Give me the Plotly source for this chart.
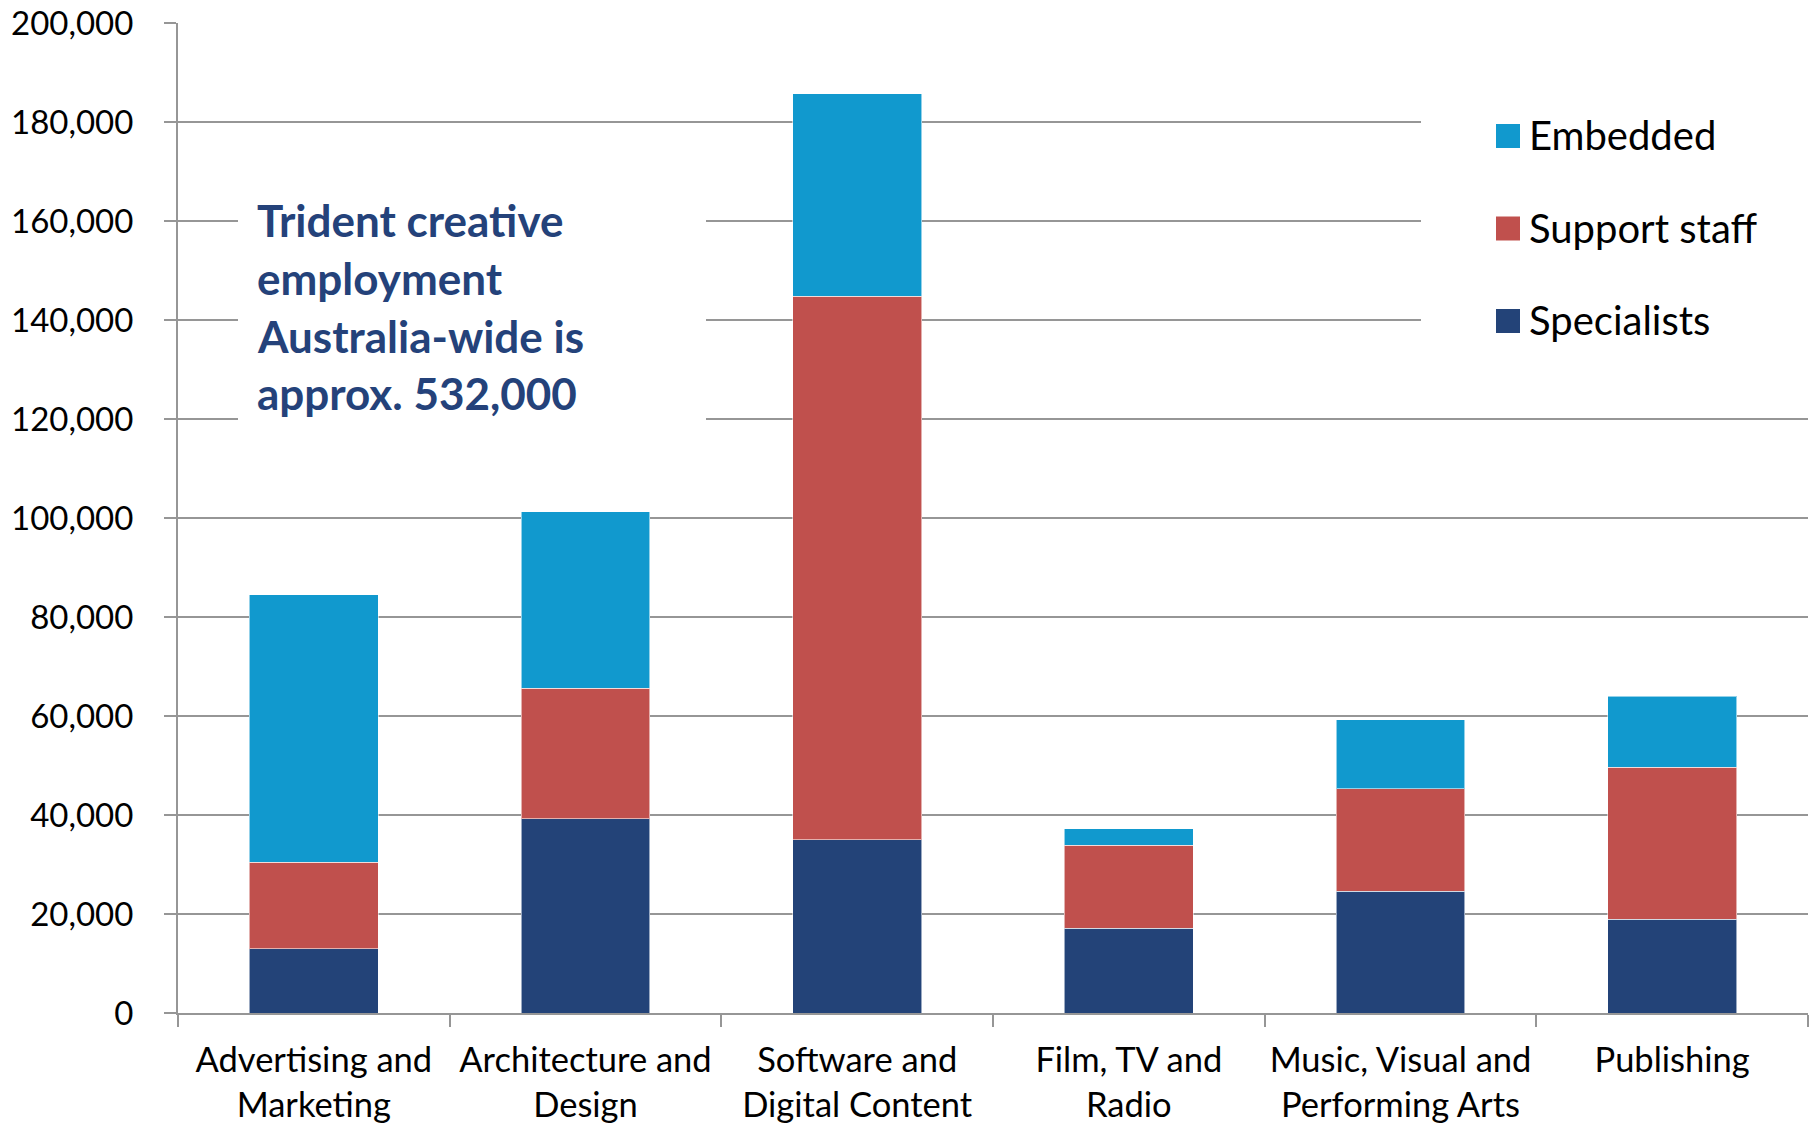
import plotly.graph_objects as go

# Creative employment by segment, stacked by employment type
categories = [
    "Advertising and<br>Marketing",
    "Architecture and<br>Design",
    "Software and<br>Digital Content",
    "Film, TV and<br>Radio",
    "Music, Visual and<br>Performing Arts",
    "Publishing",
]
specialists = [13000, 39200, 35000, 17100, 24600, 18900]
support_staff = [17500, 26400, 109800, 16800, 20700, 30700]
embedded = [54000, 35700, 40900, 3300, 13900, 14400]

series_names = ["Specialists", "Support staff", "Embedded"]
series_values = [specialists, support_staff, embedded]
series_colors = ["#234378", "#C0504D", "#1199CE"]

y_ticks = [0, 20000, 40000, 60000, 80000, 100000, 120000, 140000, 160000, 180000, 200000]

note_lines = [
    "Trident creative",
    "employment",
    "Australia-wide is",
    "approx. 532,000",
]

W, H = 1820, 1126
ML, MR, MT, MB = 178, 12, 23, 113
PW, PH = W - ML - MR, H - MT - MB


def px_x(px):
    return (px - ML) / PW


def px_y(py):
    return (H - MB - py) / PH


GRID = "#969696"
FONT = "Lato, 'Open Sans', sans-serif"

fig = go.Figure()
for name, vals, col in zip(series_names, series_values, series_colors):
    fig.add_trace(go.Bar(
        x=categories, y=vals, name=name,
        marker=dict(color=col, line=dict(color="rgba(255,255,255,0.55)", width=1)),
        showlegend=False,
    ))

shapes = [
    # white panels behind the note and the legend, interrupting the gridlines
    dict(type="rect", xref="paper", yref="paper",
         x0=px_x(238), x1=px_x(706), y0=px_y(490), y1=px_y(140),
         fillcolor="white", line=dict(width=0), layer="above"),
    dict(type="rect", xref="paper", yref="paper",
         x0=px_x(1421), x1=1.01, y0=px_y(400), y1=px_y(45),
         fillcolor="white", line=dict(width=0), layer="above"),
]
annotations = []

# legend: top entry is the top of the stack
legend_centers = [136, 228.5, 321]
for (name, col), cy in zip(list(zip(series_names, series_colors))[::-1], legend_centers):
    shapes.append(dict(type="rect", xref="paper", yref="paper",
                       x0=px_x(1496), x1=px_x(1520), y0=px_y(cy + 12), y1=px_y(cy - 12),
                       fillcolor=col, line=dict(width=0), layer="above"))
    annotations.append(dict(xref="paper", yref="paper", x=px_x(1527), y=px_y(cy - 1),
                            xanchor="left", yanchor="middle", text=name, showarrow=False,
                            font=dict(family=FONT, size=40, color="#000000")))

note_centers = [220, 278, 336, 393]
for line, cy in zip(note_lines, note_centers):
    annotations.append(dict(xref="paper", yref="paper", x=px_x(255), y=px_y(cy),
                            xanchor="left", yanchor="middle", text="<b>" + line + "</b>",
                            showarrow=False,
                            font=dict(family=FONT, size=44, color="#24427A")))

fig.update_layout(
    width=W, height=H,
    margin=dict(l=ML, r=MR, t=MT, b=MB, pad=0, autoexpand=False),
    paper_bgcolor="white", plot_bgcolor="white",
    barmode="stack", bargap=0.526,
    shapes=shapes, annotations=annotations,
    font=dict(family=FONT, color="#000000"),
)
fig.update_yaxes(
    range=[0, 200000], tickvals=y_ticks, tickformat=",d",
    automargin=False,
    showgrid=True, gridcolor=GRID, gridwidth=2,
    showline=True, linecolor=GRID, linewidth=2,
    zeroline=False,
    ticks="outside", ticklen=12, tickwidth=2, tickcolor=GRID,
    ticklabelstandoff=24,
    tickfont=dict(family=FONT, size=33, color="#000000"),
)
fig.update_xaxes(
    automargin=False, tickangle=0,
    showline=True, linecolor=GRID, linewidth=2,
    ticks="outside", ticklen=12, tickwidth=2, tickcolor=GRID,
    tickson="boundaries", showgrid=False,
    ticklabelstandoff=16,
    tickfont=dict(family=FONT, size=34.5, color="#000000"),
)

fig.write_html("out.html")
